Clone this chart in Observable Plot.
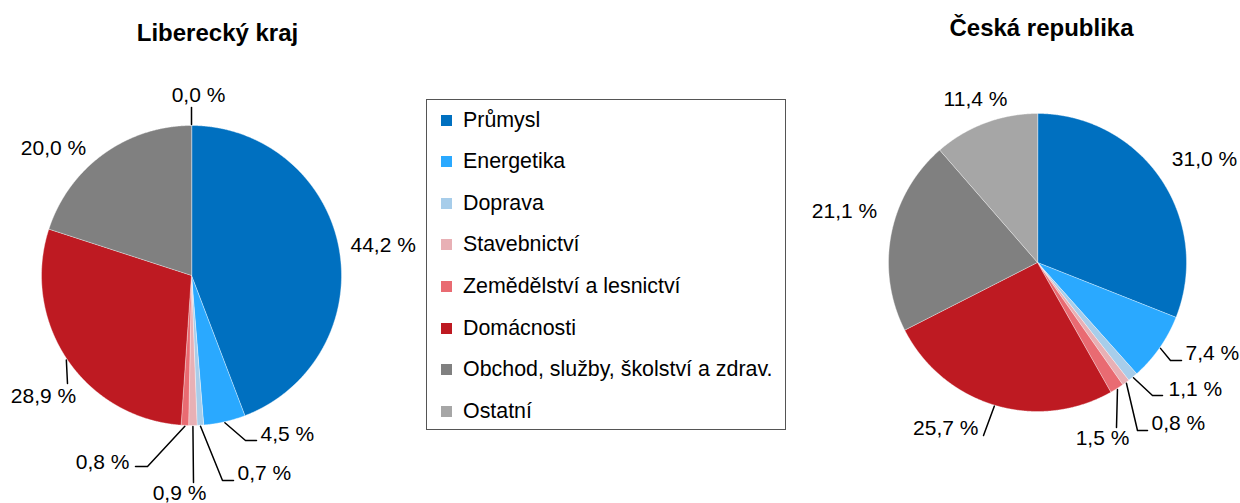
<!DOCTYPE html>
<html>
<head>
<meta charset="utf-8">
<script src="https://cdn.jsdelivr.net/npm/d3@7"></script>
<script src="https://cdn.jsdelivr.net/npm/@observablehq/plot@0.6"></script>
<style>
  html, body { margin: 0; padding: 0; background: #fff; }
  #wrap { position: relative; width: 1240px; height: 503px; font-family: "Liberation Sans", Arial, sans-serif; }
  #legend { position: absolute; left: 426px; top: 99px; width: 360px; height: 331px; box-sizing: border-box; border: 1px solid #555; background: #fff; }
  .row { position: absolute; left: 0; height: 24px; display: flex; align-items: center; font-size: 21.4px; color: #000; white-space: nowrap; }
  .sw { width: 11px; height: 11px; margin-left: 14px; margin-right: 11px; }
</style>
</head>
<body>
<div id="wrap"></div>
<script>
// ---- data ----
const categories = ["Průmysl", "Energetika", "Doprava", "Stavebnictví", "Zemědělství a lesnictví", "Domácnosti", "Obchod, služby, školství a zdrav.", "Ostatní"];
const liberecky = [44.2, 4.5, 0.7, 0.9, 0.8, 28.9, 20.0, 0.0];
const ceskaRepublika = [31.0, 7.4, 1.1, 0.8, 1.5, 25.7, 21.1, 11.4];
const titles = ["Liberecký kraj", "Česká republika"];
const colors = ["#0070C0", "#2AA9FF", "#A7CDEA", "#E8B0B5", "#E96B72", "#BE1A22", "#808080", "#A6A6A6"];

// ---- layout (pixel space) ----
const pieLayout = [
  {cx: 191, cy: 275, r: 150, titleX: 217, titleY: 33},
  {cx: 1037, cy: 262, r: 149, titleX: 1041, titleY: 28}
];
const labelLayout = [
  [
    {tx: 350, ty: 245, anchor: "start", path: []},
    {tx: 260, ty: 434, anchor: "start", path: [[245, 440], [256, 440]]},
    {tx: 237, ty: 473, anchor: "start", path: [[222, 480], [233, 480]]},
    {tx: 179, ty: 493, anchor: "middle", path: [[193, 482]]},
    {tx: 129, ty: 462, anchor: "end", path: [[147, 466], [135, 466]]},
    {tx: 43, ty: 396, anchor: "middle", path: [[67, 383]]},
    {tx: 53, ty: 148, anchor: "middle", path: []},
    {tx: 198, ty: 95, anchor: "middle", path: [[191, 107]]}
  ],
  [
    {tx: 1204, ty: 159, anchor: "middle", path: []},
    {tx: 1185, ty: 353, anchor: "start", path: [[1170, 360], [1181, 360]]},
    {tx: 1168, ty: 389, anchor: "start", path: [[1152, 395], [1162, 395]]},
    {tx: 1151, ty: 423, anchor: "start", path: [[1137, 430], [1147, 430]]},
    {tx: 1102, ty: 438, anchor: "middle", path: [[1116, 427]]},
    {tx: 978, ty: 428, anchor: "end", path: [[983, 435]]},
    {tx: 844, ty: 211, anchor: "middle", path: []},
    {tx: 975, ty: 99, anchor: "middle", path: []}
  ]
];

const series = [liberecky, ceskaRepublika];
const fmt = v => v.toFixed(1).replace(".", ",") + " %";

const slicePts = [], leaderPts = [], labels = [], titleRows = [];
series.forEach((vals, p) => {
  const {cx, cy, r, titleX, titleY} = pieLayout[p];
  titleRows.push({x: titleX, y: titleY, text: titles[p]});
  const total = d3.sum(vals);
  let acc = 0;
  vals.forEach((v, i) => {
    const a0 = acc / total * 2 * Math.PI;
    acc += v;
    const a1 = acc / total * 2 * Math.PI;
    const key = p + "-" + i;
    if (v > 0) {
      slicePts.push({key, cat: categories[i], x: cx, y: cy});
      const n = Math.max(2, Math.ceil((a1 - a0) / 0.005));
      for (let k = 0; k <= n; k++) {
        const a = a0 + (a1 - a0) * k / n;
        slicePts.push({key, cat: categories[i], x: cx + r * Math.sin(a), y: cy - r * Math.cos(a)});
      }
    }
    const L = labelLayout[p][i];
    labels.push({x: L.tx, y: L.ty, anchor: L.anchor, text: fmt(v)});
    if (L.path.length) {
      const am = (a0 + a1) / 2 || 0;
      const start = [cx + (r + 1) * Math.sin(am), cy - (r + 1) * Math.cos(am)];
      [start, ...L.path].forEach(([x, y]) => leaderPts.push({key, x, y}));
    }
  });
});

const chart = Plot.plot({
  width: 1240,
  height: 503,
  margin: 0,
  x: {domain: [0, 1240], range: [0, 1240], axis: null},
  y: {domain: [0, 503], range: [0, 503], axis: null},
  color: {domain: categories, range: colors},
  style: {fontFamily: "'Liberation Sans', Arial, sans-serif", background: "transparent"},
  marks: [
    Plot.line(slicePts, {x: "x", y: "y", z: "key", fill: "cat", stroke: "white", strokeWidth: 0.4, curve: "linear-closed"}),
    Plot.line(leaderPts, {x: "x", y: "y", z: "key", stroke: "black", strokeWidth: 1.5}),
    ...["start", "middle", "end"].map(anchor =>
      Plot.text(labels.filter(d => d.anchor === anchor), {x: "x", y: "y", text: "text", textAnchor: anchor, fontSize: 21, fill: "black"})),
    Plot.text(titleRows, {x: "x", y: "y", text: "text", fontSize: 24, fontWeight: "bold", fill: "black"})
  ]
});

const wrap = document.getElementById("wrap");
wrap.appendChild(chart);
chart.style.position = "absolute";
chart.style.left = "0";
chart.style.top = "0";

const legend = document.createElement("div");
legend.id = "legend";
categories.forEach((c, i) => {
  const row = document.createElement("div");
  row.className = "row";
  row.style.top = (20 + i * 41.6 - 12) + "px";
  const sw = document.createElement("div");
  sw.className = "sw";
  sw.style.background = colors[i];
  const t = document.createElement("span");
  t.textContent = c;
  row.appendChild(sw);
  row.appendChild(t);
  legend.appendChild(row);
});
wrap.appendChild(legend);
</script>
</body>
</html>
